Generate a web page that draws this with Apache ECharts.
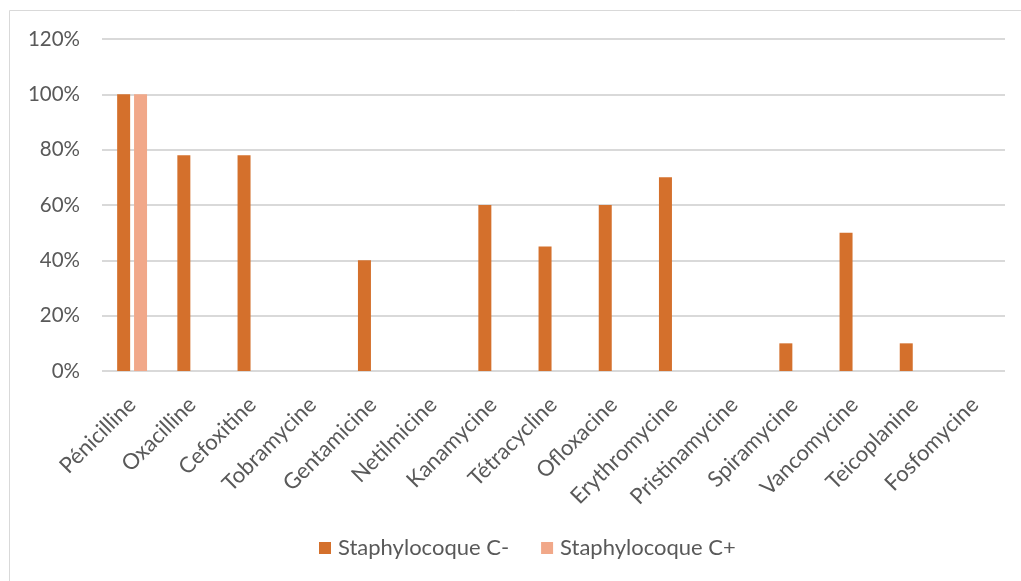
<!DOCTYPE html>
<html><head><meta charset="utf-8">
<script src="https://cdn.jsdelivr.net/npm/echarts@6/dist/echarts.min.js"></script>
<style>html,body{margin:0;padding:0;background:#fff}#c{width:1021px;height:581px}</style>
</head><body><div id="c"></div>
<script>
const categories = ["Pénicilline","Oxacilline","Cefoxitine","Tobramycine","Gentamicine","Netilmicine","Kanamycine","Tétracycline","Ofloxacine","Erythromycine","Pristinamycine","Spiramycine","Vancomycine","Teicoplanine","Fosfomycine"];
const staphMinus = [100,78,78,0,40,0,60,45,60,70,0,10,50,10,0];
const staphPlus = [100,0,0,0,0,0,0,0,0,0,0,0,0,0,0];
const seriesNames = ["Staphylocoque C-","Staphylocoque C+"];
const yTicks = {min:0,max:120,interval:20};

const font = "Lato, sans-serif";
const chart = echarts.init(document.getElementById('c'));
chart.setOption({
  animation:false,
  graphic:[{type:'rect',shape:{x:9.5,y:10.5,width:1030,height:600},style:{fill:'none',stroke:'#d9d9d9',lineWidth:1},silent:true}],
  grid:{left:102,right:16,top:39,bottom:210},
  legend:{bottom:17,left:314,itemWidth:12,itemHeight:12,itemGap:32,icon:'rect',
    textStyle:{color:'#595959',fontSize:22,fontFamily:font,padding:[0,0,0,2]}},
  xAxis:{type:'category',data:categories,
    axisLine:{show:false},axisTick:{show:false},
    axisLabel:{rotate:45,color:'#595959',fontSize:22,fontFamily:font,interval:0,margin:30}},
  yAxis:{type:'value',min:yTicks.min,max:yTicks.max,interval:yTicks.interval,
    axisLine:{show:false},axisTick:{show:false},
    axisLabel:{formatter:v=>v+'%',color:'#595959',fontSize:20.5,fontFamily:font,margin:22},
    splitLine:{lineStyle:{color:'#d9d9d9',width:2}}},
  series:[
    {name:seriesNames[0],type:'bar',data:staphMinus,barWidth:13,barGap:'30%',itemStyle:{color:'#D4702C'}},
    {name:seriesNames[1],type:'bar',data:staphPlus,barWidth:13,itemStyle:{color:'#F1A889'}}
  ]
});
</script></body></html>
